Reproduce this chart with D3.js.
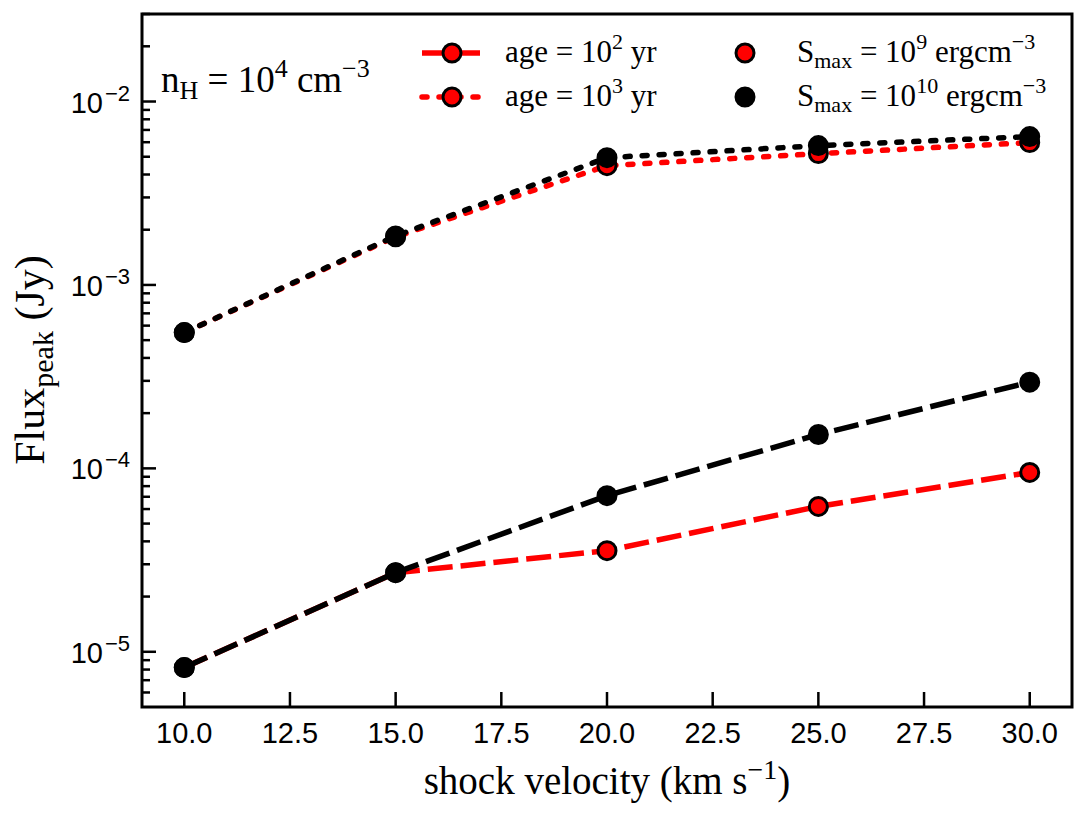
<!DOCTYPE html>
<html>
<head>
<meta charset="utf-8">
<script src="https://cdn.jsdelivr.net/npm/d3@7"></script>
<style>
  body { margin:0; background:#fff; }
  svg { display:block; }
  .serif { font-family: "Liberation Serif", "DejaVu Serif", serif; }
  .sans { font-family: "Liberation Sans", Arial, sans-serif; }
</style>
</head>
<body>
<svg id="chart" width="1087" height="815"></svg>
<script>
// values
const velocity = [10, 15, 20, 25, 30];
const fluxAge2S9  = [8.2e-6, 2.7e-5, 3.56e-5, 6.2e-5, 9.5e-5];
const fluxAge2S10 = [8.2e-6, 2.7e-5, 7.1e-5, 1.53e-4, 2.95e-4];
const fluxAge3S9  = [5.5e-4, 1.83e-3, 4.47e-3, 5.2e-3, 5.97e-3];
const fluxAge3S10 = [5.5e-4, 1.85e-3, 4.94e-3, 5.75e-3, 6.44e-3];
const xTicks = [10, 12.5, 15, 17.5, 20, 22.5, 25, 27.5, 30];
const yDecades = [-5, -4, -3, -2];

const svg = d3.select('#chart');
const L = 142, R = 1072, T = 14, B = 707;
const x = d3.scaleLinear().domain([9, 31]).range([L, R]);
const y = d3.scaleLog().domain([5e-6, 3e-2]).range([B, T]);

// styles per series
const DASH = '25,8', DOT = '5,12';
const series = [
  {vals: fluxAge2S9,  color:'#ff0000', dash:DASH, cap:'butt'},
  {vals: fluxAge3S9,  color:'#ff0000', dash:DOT,  cap:'round'},
  {vals: fluxAge2S10, color:'#000000', dash:DASH, cap:'butt'},
  {vals: fluxAge3S10, color:'#000000', dash:DOT,  cap:'round'},
];

const line = d3.line().x(d=>x(d[0])).y(d=>y(d[1]));
const gPlot = svg.append('g');
series.forEach(s=>{
  const pts = velocity.map((v,i)=>[v, s.vals[i]]);
  gPlot.append('path').attr('d', line(pts))
    .attr('fill','none').attr('stroke', s.color).attr('stroke-width',5.5)
    .attr('stroke-dasharray', s.dash).attr('stroke-linecap', s.cap);
  gPlot.selectAll(null).data(pts).enter().append('circle')
    .attr('cx', d=>x(d[0])).attr('cy', d=>y(d[1])).attr('r', 9)
    .attr('fill', s.color).attr('stroke','#000').attr('stroke-width',3);
});

// ticks (inside, left & bottom only)
const gAx = svg.append('g').attr('stroke','#000').attr('stroke-width',2.5);
xTicks.forEach(t=>{
  gAx.append('line').attr('x1',x(t)).attr('x2',x(t)).attr('y1',B).attr('y2',B-15);
});
for (let e=-6; e<=-2; e++){
  for (let m=1; m<=9; m++){
    const v = m*Math.pow(10,e);
    if (v < 5e-6 || v > 3e-2) continue;
    const yy = y(v);
    gAx.append('line').attr('x1',L).attr('x2',L+(m===1?14:8)).attr('y1',yy).attr('y2',yy);
  }
}

// frame
svg.append('rect').attr('x',L).attr('y',T).attr('width',R-L).attr('height',B-T)
  .attr('fill','none').attr('stroke','#000').attr('stroke-width',3);

// tick labels
svg.append('g').selectAll('text').data(xTicks).enter().append('text')
  .attr('class','sans').attr('x',d=>x(d)).attr('y',743)
  .attr('text-anchor','middle').attr('font-size',29)
  .text(d=>d3.format('.1f')(d));

yDecades.forEach(e=>{
  const t = svg.append('text').attr('class','sans').attr('x',130).attr('y',y(Math.pow(10,e))+11)
    .attr('text-anchor','end').attr('font-size',29);
  t.append('tspan').text('10');
  t.append('tspan').attr('dx',2).attr('dy',-12).attr('font-size',22).text('\u2212'+(-e));
});

// axis labels
const xl = svg.append('text').attr('class','serif').attr('x',(L+R)/2).attr('y',794)
  .attr('text-anchor','middle').attr('font-size',39);
xl.append('tspan').text('shock velocity (km s');
xl.append('tspan').attr('dy',-15).attr('font-size',28).text('\u22121');
xl.append('tspan').attr('dy',15).text(')');

const yl = svg.append('text').attr('class','serif')
  .attr('transform','translate(44,360) rotate(-90)')
  .attr('text-anchor','middle').attr('font-size',42);
yl.append('tspan').text('Flux');
yl.append('tspan').attr('dy',9).attr('font-size',30).text('peak');
yl.append('tspan').attr('dy',-9).text(' (Jy)');

// annotation
const an = svg.append('text').attr('class','serif').attr('x',161).attr('y',92).attr('font-size',37);
an.append('tspan').text('n');
an.append('tspan').attr('dy',7).attr('font-size',26).text('H');
an.append('tspan').attr('dy',-7).text(' = 10');
an.append('tspan').attr('dy',-15).attr('font-size',26).text('4');
an.append('tspan').attr('dy',15).text(' cm');
an.append('tspan').attr('dy',-15).attr('font-size',26).text('\u22123');

// legend
const legRows = [53, 97];
const gLeg = svg.append('g');
[{dash:DASH, cap:'butt', label:['age = 10','2',' yr']},
 {dash:DOT,  cap:'round', label:['age = 10','3',' yr']}].forEach((d,i)=>{
  const yy = legRows[i];
  gLeg.append('line').attr('x1',422).attr('x2',482).attr('y1',yy).attr('y2',yy)
    .attr('stroke','#ff0000').attr('stroke-width',5.5)
    .attr('stroke-dasharray',d.dash).attr('stroke-linecap',d.cap);
  gLeg.append('circle').attr('cx',452).attr('cy',yy).attr('r',9)
    .attr('fill','#ff0000').attr('stroke','#000').attr('stroke-width',3);
  const t = gLeg.append('text').attr('class','serif').attr('x',505).attr('y',yy+9).attr('font-size',31);
  t.append('tspan').text(d.label[0]);
  t.append('tspan').attr('dy',-13).attr('font-size',22).text(d.label[1]);
  t.append('tspan').attr('dy',13).text(d.label[2]);
});
[{color:'#ff0000', exp:'9'}, {color:'#000000', exp:'10'}].forEach((d,i)=>{
  const yy = legRows[i];
  gLeg.append('circle').attr('cx',745).attr('cy',yy).attr('r',9)
    .attr('fill',d.color).attr('stroke','#000').attr('stroke-width',3);
  const t = gLeg.append('text').attr('class','serif').attr('x',797).attr('y',yy+9).attr('font-size',31);
  t.append('tspan').text('S');
  t.append('tspan').attr('dy',6).attr('font-size',22).text('max');
  t.append('tspan').attr('dy',-6).text(' = 10');
  t.append('tspan').attr('dy',-13).attr('font-size',22).text(d.exp);
  t.append('tspan').attr('dy',13).text(' ergcm');
  t.append('tspan').attr('dy',-13).attr('font-size',22).text('\u22123');
});
</script>
</body>
</html>
